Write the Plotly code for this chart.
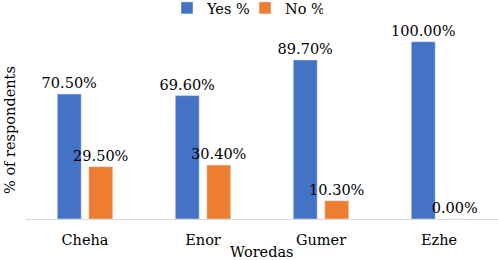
import plotly.graph_objects as go

categories = ["Cheha", "Enor", "Gumer", "Ezhe"]
yes_pct = [70.5, 69.6, 89.7, 100.0]
no_pct = [29.5, 30.4, 10.3, 0.0]

FONT = "DejaVu Serif"
FS = 14.5

fig = go.Figure()
fig.add_trace(go.Bar(
    name="Yes %", x=categories, y=yes_pct, marker_color="#4472C4",
    text=[f"{v:.2f}%" for v in yes_pct], textposition="outside",
    constraintext="none",
    textfont=dict(size=FS, color="black", family=FONT), cliponaxis=False,
))
fig.add_trace(go.Bar(
    name="No %", x=categories, y=no_pct, marker_color="#ED7D31",
    text=[f"{v:.2f}%" for v in no_pct], textposition="outside",
    constraintext="none",
    textfont=dict(size=FS, color="black", family=FONT), cliponaxis=False,
))

T, B, L, R = 24, 41, 26, 0
W, H = 498, 260
plot_h = H - T - B
plot_w = W - L - R

fig.update_layout(
    width=W, height=H,
    margin=dict(l=L, r=R, t=T, b=B, autoexpand=False),
    paper_bgcolor="white", plot_bgcolor="white",
    font=dict(family=FONT, size=FS, color="black"),
    barmode="group", bargap=0.466, bargroupgap=0.24,
    showlegend=True,
    legend=dict(orientation="h", x=(167 - L) / plot_w, xanchor="left",
                y=(219 + 8) / plot_h, yanchor="top",
                font=dict(size=FS, family=FONT), itemwidth=30, tracegroupgap=0,
                entrywidth=33, entrywidthmode="pixels",
                bgcolor="rgba(0,0,0,0)"),
    xaxis=dict(showline=True, linecolor="#D9D9D9", linewidth=1, ticks="",
               tickfont=dict(size=FS, family=FONT), showgrid=False,
               ticklabelstandoff=8),
    yaxis=dict(range=[0, 110], visible=False, showgrid=False),
    annotations=[
        dict(text="Woredas", x=(262 - L) / plot_w, xref="paper",
             y=(219 - 252) / plot_h, yref="paper", yanchor="middle",
             showarrow=False, font=dict(size=FS, family=FONT)),
        dict(text="% of respondents", textangle=-90, xref="paper", yref="paper",
             x=(10 - L) / plot_w, y=(219 - 130) / plot_h,
             xanchor="center", yanchor="middle",
             showarrow=False, font=dict(size=FS, family=FONT)),
    ],
)

fig.write_html("out.html", post_script="document.body.style.margin='0px';",
               config={"displayModeBar": False})
